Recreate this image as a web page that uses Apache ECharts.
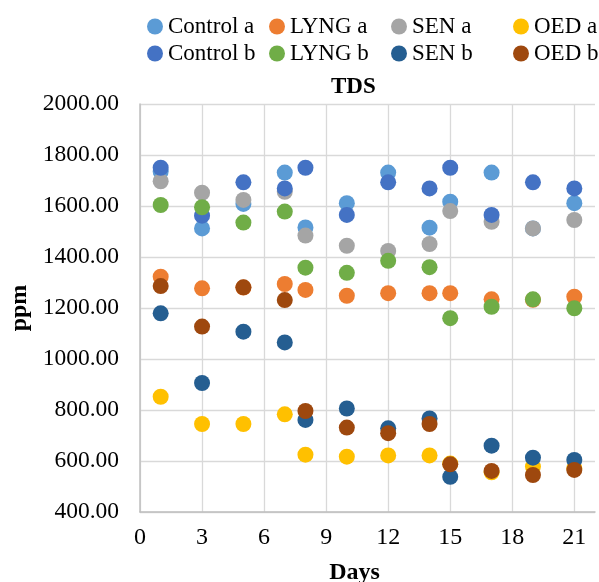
<!DOCTYPE html>
<html>
<head>
<meta charset="utf-8">
<script src="https://cdn.jsdelivr.net/npm/echarts@6/dist/echarts.min.js"></script>
<style>html,body{margin:0;padding:0;background:#fff;}#c{width:599px;height:582px;}</style>
</head>
<body>
<div id="c"></div>
<script>
const days = [1, 3, 5, 7, 8, 10, 12, 14, 15, 17, 19, 21];
const seriesNames = ['Control a', 'LYNG a', 'SEN a', 'OED a', 'Control b', 'LYNG b', 'SEN b', 'OED b'];
const controlA = [1735, 1512, 1608, 1731, 1516, 1611, 1731, 1515, 1617, 1731, 1512, 1611];
const lyngA    = [1323, 1277, 1280, 1294, 1271, 1248, 1258, 1258, 1258, 1234, 1232, 1244];
const senA     = [1697, 1652, 1624, 1656, 1484, 1444, 1424, 1451, 1580, 1538, 1512, 1545];
const oedA     = [852, 745, 745, 783, 625, 617, 622, 622, 590, 556, 578, 572];
const controlB = [1750, 1562, 1693, 1669, 1750, 1565, 1693, 1669, 1750, 1565, 1693, 1669];
const lyngB    = [1604, 1595, 1535, 1578, 1358, 1338, 1385, 1360, 1160, 1205, 1234, 1199];
const senB     = [1179, 906, 1107, 1065, 761, 806, 728, 767, 538, 660, 613, 604];
const oedB     = [1286, 1127, 1281, 1231, 796, 731, 709, 745, 587, 561, 545, 565];
const colors = ['#5B9BD5', '#ED7D31', '#A5A5A5', '#FFC000', '#4472C4', '#70AD47', '#255E91', '#9E480E'];
const values = [controlA, lyngA, senA, oedA, controlB, lyngB, senB, oedB];

const font = "'Liberation Serif', 'Times New Roman', serif";
const chart = echarts.init(document.getElementById('c'));
chart.setOption({
  animation: false,
  color: colors,
  textStyle: { fontFamily: font, color: '#000' },
  title: {
    text: 'TDS', left: 331, top: 76, padding: 0,
    textStyle: { fontFamily: font, fontSize: 23, fontWeight: 'bold', color: '#000' }
  },
  legend: {
    left: 147, top: 15, width: 490, padding: 0,
    itemWidth: 16, itemHeight: 16, itemGap: 4,
    icon: 'circle',
    data: seriesNames,
    textStyle: { fontFamily: font, fontSize: 23, color: '#000', width: 97, lineHeight: 22 }
  },
  grid: { left: 140, right: 4, top: 104, bottom: 70, containLabel: false, outerBoundsMode: 'none' },
  xAxis: {
    type: 'value', min: 0, max: 22, interval: 3,
    name: 'Days', nameLocation: 'middle', nameGap: 49,
    nameTextStyle: { fontFamily: font, fontSize: 24, fontWeight: 'bold', color: '#000', padding: [0, 26, 0, 0] },
    axisLine: { show: true, lineStyle: { color: '#bfbfbf', width: 1.5 } },
    axisTick: { show: false },
    axisLabel: { fontFamily: font, fontSize: 24, color: '#000', margin: 14, showMaxLabel: false },
    splitLine: { show: true, showMaxLine: false, lineStyle: { color: '#d9d9d9', width: 1.3 } }
  },
  yAxis: {
    type: 'value', min: 400, max: 2000, interval: 200,
    name: 'ppm', nameLocation: 'middle', nameGap: 106,
    nameTextStyle: { fontFamily: font, fontSize: 24, fontWeight: 'bold', color: '#000' },
    axisLine: { show: true, lineStyle: { color: '#bfbfbf', width: 1.5 } },
    axisTick: { show: false },
    axisLabel: { fontFamily: font, fontSize: 23.5, color: '#000', margin: 21, formatter: v => v.toFixed(2) },
    splitLine: { show: true, lineStyle: { color: '#d9d9d9', width: 1.3 } }
  },
  series: seriesNames.map((n, i) => ({
    name: n, type: 'scatter', symbol: 'circle', symbolSize: 16,
    itemStyle: { color: colors[i], opacity: 1 },
    data: days.map((d, j) => [d, values[i][j]])
  }))
});
</script>
</body>
</html>
